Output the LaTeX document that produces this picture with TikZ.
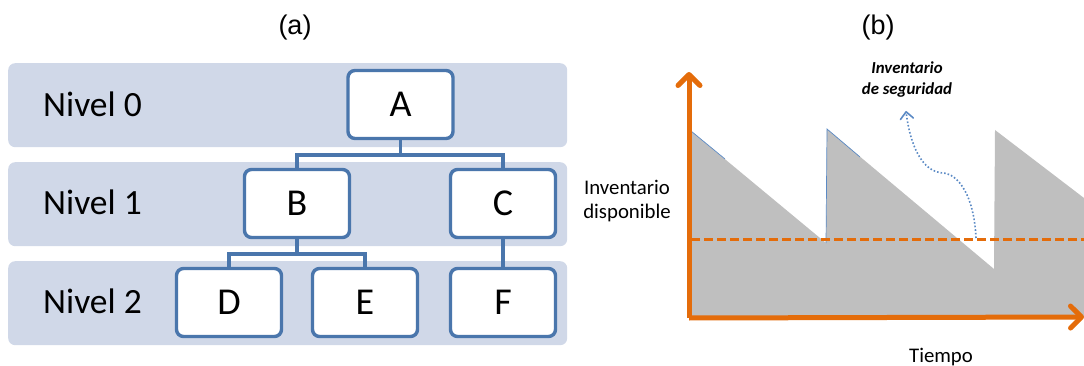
\documentclass[tikz,border=0pt]{standalone}
\usepackage{fontspec}
\setmainfont{Carlito}
\newfontfamily\arialf{Liberation Sans}
\usetikzlibrary{arrows.meta}
\definecolor{band}{HTML}{D0D8E8}
\definecolor{boxblue}{HTML}{4A76AC}
\definecolor{axisorange}{HTML}{E46C0A}
\definecolor{fillgray}{HTML}{BFBFBF}
\definecolor{dotblue}{HTML}{5B8AC5}
\tikzset{
 x=1pt,y=-1pt,
 bandbox/.style={fill=band,draw=none,rounded corners=7pt,minimum width=559pt,minimum height=84pt,inner sep=0pt,anchor=north west},
 treebox/.style={fill=white,draw=boxblue,line width=3.4pt,rounded corners=7pt,minimum width=105pt,minimum height=68pt,inner sep=0pt,font=\fontsize{38}{42}\selectfont},
 link/.style={draw=boxblue,line width=3.2pt,line join=miter},
 levellabel/.style={font=\fontsize{35.5}{40}\selectfont,anchor=west,inner sep=0pt},
 panel/.style={font=\arialf\fontsize{27}{30}\selectfont,inner sep=0pt},
 axislabel/.style={font=\fontsize{20.8}{24.5}\selectfont,align=center,inner sep=0pt},
 axisline/.style={draw=axisorange,line width=5pt,-{Straight Barb[length=11pt,width=22pt,line width=5pt,round]}},
}
\begin{document}
\begin{tikzpicture}
\useasboundingbox (0,0) rectangle (1084,366);
\node[bandbox] (b0) at (8,63) {};
\node[bandbox] (b1) at (8,162) {};
\node[bandbox] (b2) at (8,261) {};
\node[levellabel] (l0) at (43,104) {Nivel 0};
\node[levellabel] (l1) at (43,202) {Nivel 1};
\node[levellabel] (l2) at (43,301) {Nivel 2};
\node[panel] (pa) at (295,27.5) {(a)};
\node[panel] (pb) at (878,27.5) {(b)};
\node[treebox] (A) at (400.5,104.5) {A};
\node[treebox] (B) at (297,203.5) {B};
\node[treebox] (C) at (503,203.5) {C};
\node[treebox] (D) at (229,302.5) {D};
\node[treebox] (E) at (365,302.5) {E};
\node[treebox] (F) at (503,302.5) {F};
\coordinate (ab) at (400.5,155);
\coordinate (bd) at (297,254);
\draw[link] (A.south) -- (ab);
\draw[link] (B.north) -- (B.north |- ab) -- (C.north |- ab) -- (C.north);
\draw[link] (B.south) -- (bd);
\draw[link] (D.north) -- (D.north |- bd) -- (E.north |- bd) -- (E.north);
\draw[link] (C.south) -- (F.north);
% panel b
\fill[fillgray] (691,131) -- (826,243) -- (827,129) -- (994,269) -- (995,130) -- (1084,198) -- (1084,317) -- (691,317) -- cycle;
\draw[dotblue,line width=.7pt] (691,131) -- (725,159);
\draw[dotblue,line width=.7pt] (826,243) -- (827,129) -- (860,157);
\coordinate (ss) at (691,239);
\coordinate (se) at (1084,239);
\draw[axisorange,line width=3pt,dash pattern=on 9pt off 4pt] (ss) -- (se);
\coordinate (o) at (689,318);
\coordinate (ytip) at (689,72);
\coordinate (xtip) at (1084,317);
\draw[axisline] (o) -- (ytip);
\draw[axisline] (o) -- (xtip);
\coordinate (cs) at (976,238);
\coordinate (cm) at (943,173);
\coordinate (ce) at (906,111);
\draw[dotblue,line width=1.6pt,dotted,-{Straight Barb[length=7pt,width=13pt,line width=1.6pt,round]}] (cs) .. controls (974,195) and (958,174) .. (cm) .. controls (922,172) and (910,145) .. (ce);
\node[axislabel] (yl) at (627,201) {Inventario\\disponible};
\node[axislabel] (xl) at (941,357) {Tiempo};
\node[font=\fontsize{16.8}{21}\selectfont\bfseries\itshape,align=center,inner sep=0pt] (sl) at (907,80) {Inventario\\de seguridad};
\end{tikzpicture}
\end{document}
